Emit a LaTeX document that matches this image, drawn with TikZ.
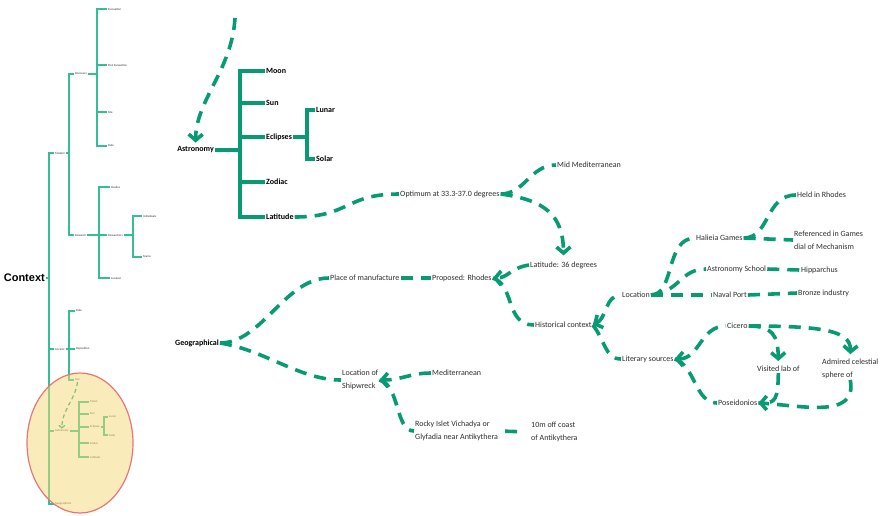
\documentclass[tikz,border=0pt]{standalone}
\usepackage{fontspec}
\setmainfont{Carlito}
\newfontfamily\ctxfont{Liberation Sans}
\usepackage{tikz}
\usetikzlibrary{arrows.meta,positioning,shapes.geometric}
\definecolor{ctx@green}{RGB}{8,155,115}
\definecolor{ctx@teal}{RGB}{52,190,152}
\definecolor{ctx@oval}{RGB}{244,218,118}
\definecolor{ctx@rim}{RGB}{232,118,118}
\definecolor{ctx@text}{RGB}{45,45,45}
\tikzset{
  ctx/.style={
    x=1pt, y=-1pt,
    line cap=butt,
    >={Straight Barb[length=6pt,width=14pt]},
    every node/.style={inner sep=1pt, text=ctx@text}
  },
  treelbl/.style={                 % tiny overview labels
    anchor=west,
    font=\fontsize{3}{3.6}\selectfont
  },
  boldlbl/.style={                 % astronomy branch labels
    anchor=west, text=black,
    font=\fontsize{8}{9.6}\selectfont\bfseries
  },
  lbl/.style={                     % mind map labels
    anchor=west, align=left,
    font=\fontsize{8}{12.5}\selectfont
  },
  thintree/.style={draw=ctx@teal, line width=1.2pt},
  thicktree/.style={draw=ctx@green, line width=3.6pt},
  link/.style={draw=ctx@green, line width=3.6pt, dash pattern=on 12pt off 8pt},
  slink/.style={draw=ctx@green!70!ctx@teal, line width=1.2pt, dash pattern=on 4pt off 3pt}
}

\begin{document}
\begin{tikzpicture}[ctx]
\useasboundingbox (0,0) rectangle (883,515);

% Overview tree
\node[anchor=east, text=black, font=\ctxfont\fontsize{11}{13}\selectfont\bfseries] (context) at (46,278) {Context};
\coordinate (ctxbus) at (49,278);
\node[treelbl] (modern) at (54,153) {Modern};
\node[treelbl] (ancient) at (54,349) {Ancient};
\node[treelbl] (sastro) at (54,431) {Astronomy};
\node[treelbl] (sgeo) at (54,504) {Geographical};
\draw[thintree] (context.east) -- (ctxbus);
\foreach \n in {modern,ancient,sastro,sgeo} \draw[thintree] (ctxbus) |- (\n.west);

% Modern
\coordinate (modbus) at (69,153);
\node[treelbl] (discovery) at (74,74) {Discovery};
\node[treelbl] (research) at (74,235) {Research};
\draw[thintree] (modern.east) -- (modbus);
\foreach \n in {discovery,research} \draw[thintree] (modbus) |- (\n.west);

\coordinate (discbus) at (97,74);
\node[treelbl] (excav) at (107,9) {Excavation};
\node[treelbl] (postexc) at (107,65) {Post Excavation};
\node[treelbl] (site) at (107,112) {Site};
\node[treelbl] (mdate) at (107,146) {Date};
\draw[thintree] (discovery.east) -- (discbus);
\foreach \n in {excav,postexc,site,mdate} \draw[thintree] (discbus) |- (\n.west);

\coordinate (resbus) at (99,235);
\node[treelbl] (studies) at (110,187) {Studies};
\node[treelbl] (researchers) at (107,235) {Researchers};
\node[treelbl] (located) at (110,278) {Located};
\draw[thintree] (research.east) -- (resbus);
\foreach \n in {studies,researchers,located} \draw[thintree] (resbus) |- (\n.west);

\coordinate (rsbus) at (133,235);
\node[treelbl] (individuals) at (142,216) {Individuals};
\node[treelbl] (teams) at (142,257) {Teams};
\draw[thintree] (researchers.east) -- (rsbus);
\foreach \n in {individuals,teams} \draw[thintree] (rsbus) |- (\n.west);

% Ancient
\coordinate (ancbus) at (69,349);
\node[treelbl] (adate) at (75,311) {Date};
\node[treelbl] (deposition) at (75,349) {Deposition};
\node[treelbl] (use) at (74,380) {Use};
\draw[thintree] (ancient.east) -- (ancbus);
\foreach \n in {adate,deposition,use} \draw[thintree] (ancbus) |- (\n.west);

% Small astronomy
\coordinate (sastrobus) at (79,431);
\node[treelbl] (smoon) at (89,402) {Moon};
\node[treelbl] (ssun) at (89,414) {Sun};
\node[treelbl] (secl) at (89,427) {Eclipses};
\node[treelbl] (szodiac) at (89,443) {Zodiac};
\node[treelbl] (slat) at (89,457) {Latitude};
\draw[thintree] (sastro.east) -- (sastrobus);
\foreach \n in {smoon,ssun,secl,szodiac,slat} \draw[thintree] (sastrobus) |- (\n.west);
\coordinate (seclbus) at (104,427);
\node[treelbl] (slunar) at (108,417) {Lunar};
\node[treelbl] (ssolar) at (108,435) {Solar};
\draw[thintree] (secl.east) -- (seclbus);
\foreach \n in {slunar,ssolar} \draw[thintree] (seclbus) |- (\n.west);
\draw[slink, ->, >={Straight Barb[length=2.5pt,width=6pt]}]
  (use.south) .. controls (75,400) and (62,410) .. (sastro.north);

% Highlight
\fill[ctx@oval, fill opacity=0.5] (80,443) ellipse [x radius=53pt, y radius=70pt];
\draw[ctx@rim, line width=1.2pt] (80,443) ellipse [x radius=53pt, y radius=70pt];

% Astronomy
\node[boldlbl, anchor=east] (astro) at (215,150) {Astronomy};
\coordinate (astrobus) at (240,150);
\node[boldlbl] (moon) at (265,71) {Moon};
\node[boldlbl] (sun) at (265,103) {Sun};
\node[boldlbl] (eclipses) at (265,137) {Eclipses};
\node[boldlbl] (zodiac) at (265,182) {Zodiac};
\node[boldlbl] (latitude) at (265,217) {Latitude};
\draw[thicktree] (astro.east) -- (astrobus);
\foreach \n in {moon,sun,eclipses,zodiac,latitude} \draw[thicktree] (astrobus) |- (\n.west);
\coordinate (eclbus) at (307,137);
\node[boldlbl] (lunar) at (315,110) {Lunar};
\node[boldlbl] (solar) at (315,159) {Solar};
\draw[thicktree] (eclipses.east) -- (eclbus);
\foreach \n in {lunar,solar} \draw[thicktree] (eclbus) |- (\n.west);
\coordinate (astroin) at (235,18);
\draw[link, ->, shorten >=3pt] (astroin) .. controls (232,70) and (196,100) .. (astro.north);

% Latitude chain
\node[lbl] (optimum) at (399,194) {Optimum at 33.3-37.0 degrees};
\node[lbl] (midmed) at (556,165) {Mid Mediterranean};
\node[lbl] (lat36) at (529,265) {Latitude: 36 degrees};
\node[lbl] (proposed) at (431,278) {Proposed: Rhodes};
\node[lbl] (manuf) at (329,278) {Place of manufacture};
\draw[link] (latitude.east) .. controls (350,217) and (345,194) .. (optimum.west);
\draw[link] (optimum.east) .. controls (525,194) and (530,165) .. (midmed.west);
\draw[link, ->, shorten >=5pt] (optimum.east) .. controls (545,200) and (563,215) .. (lat36.north);
\draw[link, ->] (lat36.west) .. controls (510,268) and (508,278) .. (proposed.east);
\draw[link] (manuf.east) -- (proposed.west);

% Geographical
\node[boldlbl] (geo) at (174,343) {Geographical};
\node[lbl] (wreck) at (341,380) {Location of\\Shipwreck};
\node[lbl] (medit) at (431,373) {Mediterranean};
\node[lbl] (islet) at (414,431) {Rocky Islet Vichadya or\\Glyfadia near Antikythera};
\node[lbl] (offcoast) at (530,432) {10m off coast\\of Antikythera};
\draw[link] (geo.east) .. controls (262,343) and (285,278) .. (manuf.west);
\draw[link] (geo.east) .. controls (265,350) and (300,380) .. (wreck.west);
\draw[link, ->] (medit.west) .. controls (410,373) and (402,380) .. (wreck.east);
\draw[link] (wreck.east) .. controls (400,385) and (395,431) .. (islet.west);
\draw[link, shorten <=6pt, shorten >=6pt] (islet.east) -- (offcoast.west);

% Historical context
\node[lbl] (histctx) at (534,325) {Historical context};
\node[lbl] (location) at (621,295) {Location};
\node[lbl] (literary) at (621,359) {Literary sources};
\draw[link] (proposed.east) .. controls (515,285) and (505,325) .. (histctx.west);
\draw[link, <-] (histctx.east) .. controls (607,318) and (605,295) .. (location.west);
\draw[link] (histctx.east) .. controls (605,340) and (605,359) .. (literary.west);

% Location
\node[lbl] (halieia) at (695,238) {Halieia Games};
\node[lbl] (aschool) at (706,269) {Astronomy School};
\node[lbl] (naval) at (712,295) {Naval Port};
\node[lbl] (heldrh) at (796,195) {Held in Rhodes};
\node[lbl] (refgames) at (793,240) {Referenced in Games\\dial of Mechanism};
\node[lbl] (hipparchus) at (800,270) {Hipparchus};
\node[lbl] (bronze) at (797,293) {Bronze industry};
\draw[link] (location.east) .. controls (675,295) and (665,238) .. (halieia.west);
\draw[link] (location.east) .. controls (680,292) and (680,269) .. (aschool.west);
\draw[link] (location.east) -- (naval.west);
\draw[link] (halieia.east) .. controls (770,238) and (765,195) .. (heldrh.west);
\draw[link] (halieia.east) -- (refgames.west);
\draw[link] (aschool.east) -- (hipparchus.west);
\draw[link] (naval.east) -- (bronze.west);

% Literary sources
\node[lbl] (cicero) at (726,326) {Cicero};
\node[lbl] (poseid) at (717,403) {Poseidonios};
\node[lbl] (visited) at (756,369) {Visited lab of};
\node[lbl] (admired) at (821,369) {Admired celestial\\sphere of};
\draw[link, <-] (literary.east) .. controls (700,359) and (700,326) .. (cicero.west);
\draw[link] (literary.east) .. controls (695,365) and (695,403) .. (poseid.west);
\draw[link, ->, shorten >=4pt] (cicero.east) .. controls (772,326) and (778,335) .. (visited.north);
\draw[link, ->, shorten >=4pt] (cicero.east) .. controls (820,326) and (851,330) .. (admired.north);
\draw[link, ->] (visited.south) .. controls (778,400) and (775,403) .. (poseid.east);
\draw[link] (admired.south) .. controls (858,420) and (800,405) .. (poseid.east);

\end{tikzpicture}
\end{document}
